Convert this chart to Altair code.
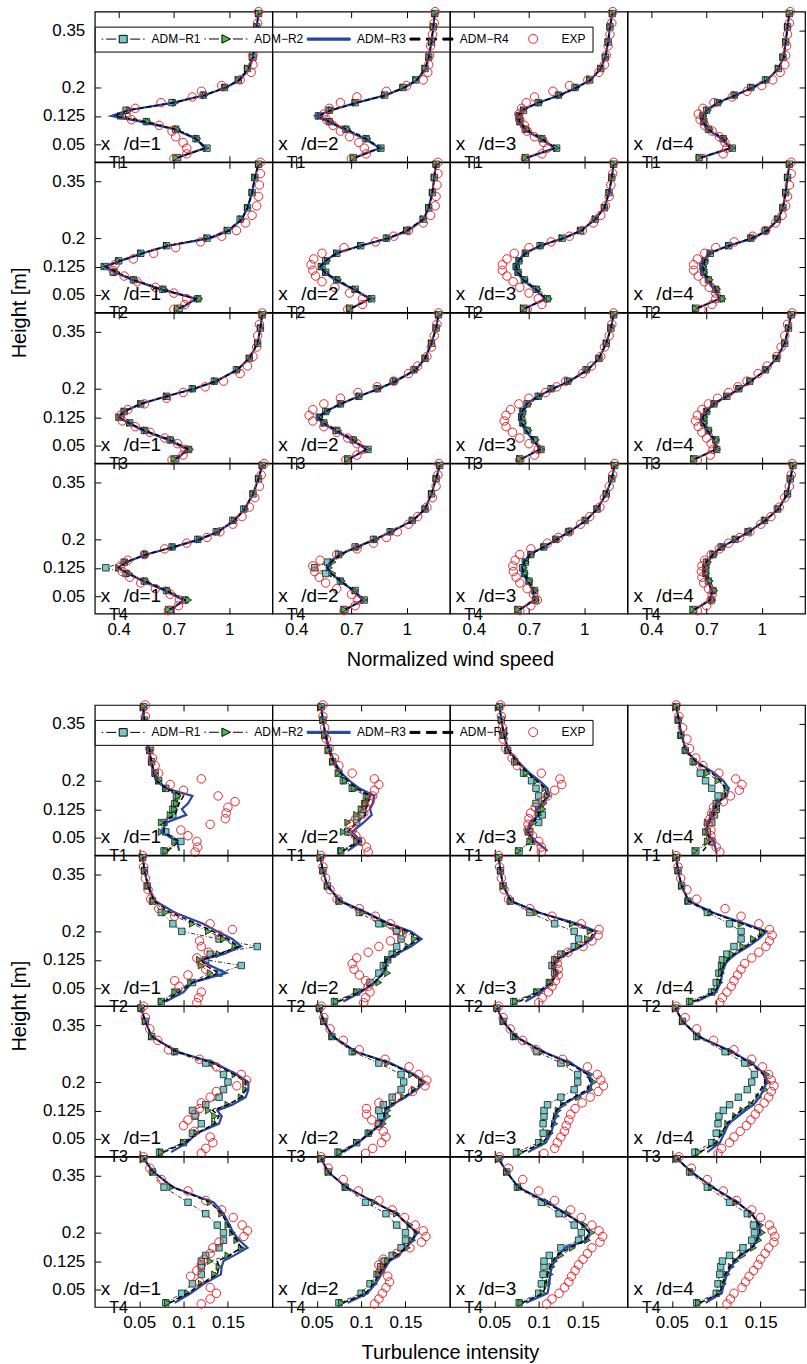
import altair as alt
import pandas as pd

# ---------------- heights (m) ----------------
HM = [0.015, 0.04, 0.065, 0.09, 0.11, 0.125, 0.14, 0.16, 0.18, 0.2, 0.22, 0.25, 0.28, 0.32, 0.36, 0.395]
HE = [0.012, 0.025, 0.04, 0.055, 0.07, 0.085, 0.1, 0.115, 0.13, 0.145, 0.16, 0.175, 0.19, 0.205,
      0.22, 0.24, 0.26, 0.285, 0.31, 0.34, 0.37, 0.4]

SERIES = ["R1", "R2", "R3", "R4", "EXP"]
LABELS = ["ADM\u2212R1", "ADM\u2212R2", "ADM\u2212R3", "ADM\u2212R4", "EXP"]

# ---------------- normalized wind speed (rows: x/d = 1..4) ----------------
U_T1_R1 = [
    [0.72, 0.88, 0.82, 0.71, 0.55, 0.42, 0.44, 0.69, 0.86, 0.975, 1.05, 1.10, 1.13, 1.14, 1.15, 1.16],
    [0.71, 0.86, 0.78, 0.67, 0.58, 0.52, 0.58, 0.72, 0.88, 0.98, 1.05, 1.10, 1.12, 1.135, 1.145, 1.153],
    [0.68, 0.85, 0.77, 0.68, 0.65, 0.645, 0.67, 0.75, 0.86, 0.95, 1.03, 1.09, 1.115, 1.13, 1.14, 1.153],
    [0.66, 0.84, 0.79, 0.71, 0.685, 0.68, 0.70, 0.76, 0.85, 0.94, 1.02, 1.09, 1.115, 1.13, 1.14, 1.15],
]
U_T1_R2 = [
    [0.71, 0.875, 0.83, 0.72, 0.56, 0.41, 0.46, 0.71, 0.87, 0.98, 1.05, 1.10, 1.125, 1.14, 1.15, 1.16],
    [0.71, 0.86, 0.79, 0.68, 0.59, 0.53, 0.59, 0.72, 0.88, 0.98, 1.05, 1.10, 1.12, 1.135, 1.145, 1.153],
    [0.68, 0.85, 0.78, 0.69, 0.655, 0.65, 0.67, 0.76, 0.87, 0.96, 1.03, 1.09, 1.115, 1.13, 1.14, 1.153],
    [0.66, 0.84, 0.80, 0.72, 0.69, 0.685, 0.71, 0.77, 0.86, 0.95, 1.03, 1.09, 1.115, 1.13, 1.14, 1.15],
]
U_T1_R3 = [
    [0.72, 0.87, 0.82, 0.70, 0.52, 0.36, 0.45, 0.70, 0.87, 0.985, 1.06, 1.11, 1.13, 1.14, 1.15, 1.16],
    [0.72, 0.855, 0.77, 0.66, 0.57, 0.505, 0.59, 0.73, 0.89, 0.99, 1.06, 1.105, 1.12, 1.135, 1.145, 1.153],
    [0.69, 0.84, 0.76, 0.67, 0.645, 0.638, 0.66, 0.75, 0.87, 0.96, 1.035, 1.09, 1.115, 1.13, 1.14, 1.153],
    [0.67, 0.83, 0.78, 0.70, 0.68, 0.675, 0.70, 0.76, 0.86, 0.95, 1.03, 1.09, 1.12, 1.13, 1.14, 1.15],
]
U_T1_R4 = [
    [0.72, 0.87, 0.82, 0.71, 0.53, 0.38, 0.45, 0.70, 0.87, 0.98, 1.055, 1.105, 1.13, 1.14, 1.15, 1.16],
    [0.72, 0.85, 0.78, 0.67, 0.58, 0.52, 0.59, 0.73, 0.89, 0.99, 1.055, 1.10, 1.12, 1.135, 1.145, 1.153],
    [0.69, 0.84, 0.77, 0.68, 0.65, 0.64, 0.665, 0.75, 0.87, 0.96, 1.035, 1.09, 1.115, 1.13, 1.14, 1.153],
    [0.67, 0.83, 0.79, 0.71, 0.68, 0.68, 0.70, 0.76, 0.86, 0.95, 1.03, 1.09, 1.12, 1.13, 1.14, 1.15],
]
U_T1_EXP = [
    [0.70, 0.77, 0.77, 0.75, 0.71, 0.69, 0.62, 0.47, 0.44, 0.49, 0.63, 0.80, 0.85, 0.96, 1.06, 1.12, 1.13, 1.13, 1.135, 1.145, 1.155, 1.16],
    [0.70, 0.78, 0.77, 0.74, 0.69, 0.64, 0.60, 0.565, 0.55, 0.58, 0.64, 0.73, 0.89, 1.0, 1.09, 1.115, 1.12, 1.125, 1.13, 1.14, 1.15, 1.155],
    [0.68, 0.77, 0.80, 0.78, 0.73, 0.69, 0.675, 0.65, 0.645, 0.66, 0.685, 0.73, 0.83, 0.92, 1.02, 1.08, 1.11, 1.12, 1.13, 1.14, 1.15, 1.155],
    [0.68, 0.79, 0.81, 0.80, 0.77, 0.73, 0.69, 0.665, 0.655, 0.68, 0.74, 0.84, 0.92, 1.0, 1.06, 1.10, 1.125, 1.13, 1.135, 1.14, 1.15, 1.155],
]

U_T2_R1 = [
    [0.73, 0.83, 0.64, 0.48, 0.37, 0.33, 0.40, 0.52, 0.66, 0.88, 0.99, 1.06, 1.10, 1.125, 1.14, 1.16],
    [0.69, 0.81, 0.72, 0.62, 0.56, 0.54, 0.56, 0.62, 0.75, 0.89, 1.0, 1.09, 1.12, 1.14, 1.15, 1.16],
    [0.67, 0.80, 0.74, 0.675, 0.64, 0.63, 0.645, 0.68, 0.76, 0.88, 0.98, 1.06, 1.11, 1.135, 1.15, 1.16],
    [0.64, 0.78, 0.75, 0.71, 0.685, 0.68, 0.69, 0.72, 0.82, 0.94, 1.02, 1.085, 1.115, 1.13, 1.14, 1.15],
]
U_T2_R2 = [
    [0.72, 0.84, 0.65, 0.49, 0.39, 0.32, 0.40, 0.52, 0.66, 0.88, 0.99, 1.07, 1.10, 1.125, 1.14, 1.16],
    [0.69, 0.81, 0.72, 0.63, 0.56, 0.535, 0.57, 0.62, 0.75, 0.90, 1.0, 1.09, 1.12, 1.14, 1.15, 1.16],
    [0.67, 0.81, 0.75, 0.68, 0.645, 0.635, 0.65, 0.685, 0.77, 0.88, 0.98, 1.06, 1.11, 1.135, 1.15, 1.16],
    [0.64, 0.79, 0.76, 0.72, 0.69, 0.685, 0.695, 0.72, 0.82, 0.95, 1.03, 1.09, 1.115, 1.13, 1.14, 1.15],
]
U_T2_R3 = [
    [0.74, 0.82, 0.625, 0.47, 0.38, 0.322, 0.41, 0.53, 0.67, 0.90, 1.00, 1.07, 1.10, 1.125, 1.14, 1.16],
    [0.70, 0.80, 0.71, 0.61, 0.55, 0.529, 0.56, 0.615, 0.75, 0.905, 1.01, 1.095, 1.12, 1.14, 1.15, 1.16],
    [0.68, 0.79, 0.73, 0.665, 0.635, 0.627, 0.64, 0.675, 0.76, 0.89, 0.985, 1.06, 1.11, 1.135, 1.15, 1.16],
    [0.65, 0.77, 0.74, 0.70, 0.68, 0.675, 0.685, 0.71, 0.82, 0.955, 1.03, 1.09, 1.115, 1.13, 1.14, 1.15],
]
U_T2_R4 = [
    [0.73, 0.82, 0.63, 0.48, 0.39, 0.33, 0.41, 0.53, 0.67, 0.89, 1.00, 1.07, 1.10, 1.125, 1.14, 1.16],
    [0.70, 0.80, 0.71, 0.62, 0.555, 0.53, 0.56, 0.62, 0.75, 0.90, 1.0, 1.09, 1.12, 1.14, 1.15, 1.16],
    [0.68, 0.79, 0.74, 0.67, 0.64, 0.63, 0.645, 0.68, 0.76, 0.89, 0.985, 1.06, 1.11, 1.135, 1.15, 1.16],
    [0.65, 0.77, 0.75, 0.71, 0.685, 0.68, 0.69, 0.715, 0.82, 0.95, 1.03, 1.09, 1.115, 1.13, 1.14, 1.15],
]
U_T2_EXP = [
    [0.70, 0.76, 0.77, 0.70, 0.60, 0.50, 0.43, 0.37, 0.38, 0.48, 0.59, 0.71, 0.845, 0.96, 1.04, 1.09, 1.125, 1.15, 1.16, 1.165, 1.17, 1.17],
    [0.68, 0.76, 0.76, 0.69, 0.61, 0.54, 0.505, 0.49, 0.48, 0.495, 0.54, 0.66, 0.83, 0.93, 1.01, 1.09, 1.13, 1.155, 1.16, 1.165, 1.17, 1.17],
    [0.69, 0.77, 0.75, 0.70, 0.65, 0.614, 0.58, 0.555, 0.555, 0.58, 0.62, 0.70, 0.82, 0.92, 0.99, 1.05, 1.09, 1.115, 1.136, 1.145, 1.155, 1.16],
    [0.67, 0.73, 0.75, 0.75, 0.715, 0.687, 0.655, 0.63, 0.63, 0.65, 0.69, 0.75, 0.85, 0.95, 1.02, 1.075, 1.11, 1.13, 1.14, 1.15, 1.16, 1.16],
]

U_T3_R1 = [
    [0.71, 0.78, 0.68, 0.54, 0.46, 0.41, 0.43, 0.52, 0.66, 0.80, 0.92, 1.04, 1.11, 1.155, 1.17, 1.18],
    [0.68, 0.79, 0.71, 0.62, 0.55, 0.525, 0.56, 0.64, 0.74, 0.84, 0.93, 1.04, 1.10, 1.135, 1.16, 1.173],
    [0.65, 0.765, 0.73, 0.69, 0.665, 0.66, 0.665, 0.69, 0.75, 0.82, 0.91, 1.01, 1.08, 1.12, 1.145, 1.16],
    [0.63, 0.755, 0.75, 0.71, 0.685, 0.685, 0.70, 0.74, 0.81, 0.875, 0.935, 1.02, 1.08, 1.125, 1.145, 1.16],
]
U_T3_R2 = [
    [0.70, 0.79, 0.69, 0.55, 0.46, 0.40, 0.43, 0.52, 0.66, 0.81, 0.93, 1.05, 1.11, 1.155, 1.17, 1.18],
    [0.68, 0.79, 0.72, 0.63, 0.555, 0.53, 0.57, 0.645, 0.745, 0.85, 0.94, 1.05, 1.10, 1.135, 1.16, 1.173],
    [0.65, 0.77, 0.74, 0.70, 0.67, 0.66, 0.67, 0.70, 0.76, 0.83, 0.92, 1.02, 1.08, 1.12, 1.145, 1.16],
    [0.63, 0.76, 0.755, 0.715, 0.69, 0.69, 0.705, 0.745, 0.81, 0.88, 0.94, 1.025, 1.08, 1.125, 1.145, 1.16],
]
U_T3_R3 = [
    [0.72, 0.77, 0.67, 0.53, 0.45, 0.40, 0.43, 0.52, 0.66, 0.81, 0.93, 1.045, 1.11, 1.155, 1.17, 1.18],
    [0.69, 0.78, 0.70, 0.61, 0.54, 0.515, 0.56, 0.64, 0.74, 0.85, 0.94, 1.05, 1.10, 1.135, 1.16, 1.173],
    [0.66, 0.76, 0.72, 0.68, 0.655, 0.65, 0.66, 0.685, 0.75, 0.83, 0.92, 1.02, 1.08, 1.12, 1.145, 1.16],
    [0.64, 0.75, 0.74, 0.70, 0.675, 0.68, 0.695, 0.735, 0.81, 0.88, 0.94, 1.025, 1.08, 1.125, 1.145, 1.16],
]
U_T3_R4 = [
    [0.71, 0.78, 0.68, 0.54, 0.455, 0.40, 0.43, 0.52, 0.66, 0.81, 0.93, 1.045, 1.11, 1.155, 1.17, 1.18],
    [0.69, 0.78, 0.71, 0.62, 0.55, 0.52, 0.56, 0.64, 0.74, 0.85, 0.94, 1.05, 1.10, 1.135, 1.16, 1.173],
    [0.66, 0.76, 0.725, 0.685, 0.66, 0.655, 0.665, 0.69, 0.75, 0.83, 0.92, 1.02, 1.08, 1.12, 1.145, 1.16],
    [0.64, 0.75, 0.745, 0.705, 0.68, 0.68, 0.70, 0.74, 0.81, 0.88, 0.94, 1.025, 1.08, 1.125, 1.145, 1.16],
]
U_T3_EXP = [
    [0.69, 0.75, 0.76, 0.72, 0.65, 0.57, 0.49, 0.42, 0.41, 0.45, 0.54, 0.66, 0.75, 0.87, 0.97, 1.06, 1.10, 1.13, 1.15, 1.155, 1.165, 1.18],
    [0.67, 0.73, 0.76, 0.73, 0.68, 0.62, 0.55, 0.49, 0.47, 0.49, 0.55, 0.64, 0.735, 0.84, 0.93, 1.01, 1.06, 1.11, 1.135, 1.15, 1.165, 1.173],
    [0.65, 0.73, 0.75, 0.70, 0.65, 0.61, 0.575, 0.565, 0.575, 0.60, 0.645, 0.70, 0.79, 0.85, 0.90, 0.99, 1.04, 1.09, 1.11, 1.136, 1.15, 1.16],
    [0.65, 0.72, 0.735, 0.725, 0.70, 0.675, 0.655, 0.64, 0.65, 0.675, 0.71, 0.76, 0.82, 0.87, 0.92, 0.98, 1.03, 1.08, 1.105, 1.125, 1.14, 1.165],
]

U_T4_R1 = [
    [0.68, 0.76, 0.66, 0.54, 0.44, 0.33, 0.43, 0.54, 0.69, 0.83, 0.93, 1.02, 1.08, 1.13, 1.16, 1.18],
    [0.66, 0.77, 0.72, 0.64, 0.56, 0.50, 0.57, 0.63, 0.72, 0.82, 0.91, 1.03, 1.10, 1.135, 1.16, 1.18],
    [0.64, 0.735, 0.73, 0.70, 0.675, 0.665, 0.68, 0.71, 0.78, 0.845, 0.915, 1.005, 1.07, 1.12, 1.15, 1.165],
    [0.63, 0.725, 0.735, 0.71, 0.695, 0.695, 0.70, 0.735, 0.78, 0.855, 0.925, 1.015, 1.085, 1.14, 1.155, 1.17],
]
U_T4_R2 = [
    [0.67, 0.78, 0.67, 0.55, 0.46, 0.40, 0.44, 0.55, 0.70, 0.84, 0.94, 1.03, 1.09, 1.13, 1.16, 1.18],
    [0.66, 0.77, 0.72, 0.65, 0.60, 0.58, 0.60, 0.645, 0.74, 0.835, 0.92, 1.035, 1.10, 1.135, 1.16, 1.18],
    [0.64, 0.74, 0.735, 0.705, 0.68, 0.675, 0.685, 0.715, 0.785, 0.85, 0.92, 1.01, 1.07, 1.12, 1.15, 1.165],
    [0.625, 0.73, 0.745, 0.72, 0.70, 0.70, 0.71, 0.745, 0.79, 0.86, 0.93, 1.02, 1.09, 1.14, 1.155, 1.17],
]
U_T4_R3 = [
    [0.69, 0.75, 0.65, 0.53, 0.45, 0.395, 0.44, 0.55, 0.70, 0.84, 0.94, 1.03, 1.085, 1.13, 1.16, 1.18],
    [0.67, 0.76, 0.71, 0.64, 0.59, 0.565, 0.585, 0.635, 0.73, 0.83, 0.915, 1.035, 1.10, 1.135, 1.16, 1.18],
    [0.65, 0.73, 0.72, 0.69, 0.665, 0.66, 0.675, 0.70, 0.78, 0.85, 0.92, 1.01, 1.07, 1.12, 1.15, 1.165],
    [0.635, 0.72, 0.73, 0.705, 0.687, 0.69, 0.70, 0.735, 0.78, 0.86, 0.93, 1.02, 1.09, 1.14, 1.155, 1.17],
]
U_T4_R4 = [
    [0.68, 0.76, 0.66, 0.54, 0.45, 0.40, 0.44, 0.55, 0.70, 0.84, 0.94, 1.03, 1.085, 1.13, 1.16, 1.18],
    [0.67, 0.76, 0.71, 0.64, 0.59, 0.57, 0.59, 0.64, 0.73, 0.83, 0.915, 1.035, 1.10, 1.135, 1.16, 1.18],
    [0.65, 0.73, 0.725, 0.695, 0.67, 0.665, 0.675, 0.705, 0.78, 0.85, 0.92, 1.01, 1.07, 1.12, 1.15, 1.165],
    [0.635, 0.72, 0.73, 0.705, 0.69, 0.69, 0.70, 0.735, 0.78, 0.86, 0.93, 1.02, 1.09, 1.14, 1.155, 1.17],
]
U_T4_EXP = [
    [0.67, 0.725, 0.73, 0.68, 0.60, 0.52, 0.46, 0.42, 0.41, 0.45, 0.54, 0.65, 0.77, 0.88, 0.95, 1.02, 1.07, 1.11, 1.14, 1.165, 1.175, 1.19],
    [0.66, 0.72, 0.735, 0.70, 0.62, 0.56, 0.525, 0.50, 0.49, 0.53, 0.62, 0.73, 0.82, 0.89, 0.95, 1.01, 1.06, 1.11, 1.14, 1.16, 1.17, 1.175],
    [0.65, 0.71, 0.745, 0.725, 0.69, 0.65, 0.63, 0.615, 0.612, 0.625, 0.65, 0.71, 0.80, 0.86, 0.92, 0.98, 1.03, 1.085, 1.11, 1.136, 1.155, 1.165],
    [0.65, 0.70, 0.725, 0.73, 0.71, 0.685, 0.675, 0.672, 0.675, 0.69, 0.725, 0.77, 0.82, 0.88, 0.935, 0.995, 1.05, 1.095, 1.125, 1.15, 1.16, 1.165],
]

# ---------------- turbulence intensity ----------------
TI_T1_R1 = [
    [0.078, 0.097, 0.08, 0.078, 0.088, 0.088, 0.09, 0.092, 0.08, 0.072, 0.068, 0.064, 0.062, 0.058, 0.056, 0.055],
    [0.077, 0.097, 0.085, 0.095, 0.10, 0.102, 0.104, 0.106, 0.09, 0.08, 0.075, 0.068, 0.063, 0.059, 0.057, 0.055],
    [0.078, 0.092, 0.09, 0.10, 0.104, 0.10, 0.097, 0.10, 0.097, 0.092, 0.083, 0.073, 0.065, 0.06, 0.058, 0.056],
    [0.077, 0.095, 0.09, 0.095, 0.098, 0.10, 0.10, 0.102, 0.095, 0.088, 0.082, 0.074, 0.065, 0.06, 0.057, 0.055],
]
TI_T1_R2 = [
    [0.08, 0.09, 0.075, 0.075, 0.085, 0.09, 0.092, 0.094, 0.08, 0.072, 0.068, 0.064, 0.062, 0.058, 0.056, 0.055],
    [0.078, 0.095, 0.08, 0.085, 0.095, 0.10, 0.105, 0.108, 0.092, 0.082, 0.074, 0.068, 0.063, 0.059, 0.057, 0.055],
    [0.077, 0.09, 0.088, 0.095, 0.10, 0.105, 0.106, 0.11, 0.107, 0.098, 0.086, 0.075, 0.066, 0.061, 0.058, 0.056],
    [0.076, 0.09, 0.088, 0.09, 0.096, 0.10, 0.103, 0.11, 0.112, 0.102, 0.09, 0.076, 0.066, 0.061, 0.058, 0.055],
]
TI_T1_R3 = [
    [0.095, 0.093, 0.075, 0.081, 0.103, 0.098, 0.105, 0.11, 0.08, 0.069, 0.066, 0.063, 0.061, 0.057, 0.055, 0.054],
    [0.085, 0.10, 0.09, 0.103, 0.112, 0.11, 0.113, 0.115, 0.098, 0.087, 0.078, 0.07, 0.065, 0.06, 0.057, 0.055],
    [0.11, 0.097, 0.087, 0.09, 0.10, 0.098, 0.104, 0.112, 0.11, 0.101, 0.09, 0.077, 0.066, 0.061, 0.058, 0.056],
    [0.10, 0.097, 0.089, 0.09, 0.095, 0.097, 0.10, 0.112, 0.114, 0.108, 0.098, 0.078, 0.066, 0.061, 0.058, 0.055],
]
TI_T1_R4 = [
    [0.082, 0.095, 0.078, 0.078, 0.09, 0.093, 0.095, 0.10, 0.08, 0.07, 0.067, 0.064, 0.062, 0.058, 0.056, 0.055],
    [0.08, 0.098, 0.085, 0.095, 0.105, 0.105, 0.108, 0.11, 0.095, 0.085, 0.077, 0.069, 0.064, 0.06, 0.057, 0.055],
    [0.09, 0.094, 0.088, 0.093, 0.10, 0.10, 0.103, 0.11, 0.107, 0.098, 0.088, 0.076, 0.066, 0.061, 0.058, 0.056],
    [0.085, 0.094, 0.089, 0.092, 0.097, 0.099, 0.10, 0.11, 0.11, 0.105, 0.095, 0.077, 0.066, 0.061, 0.058, 0.055],
]
TI_T1_EXP = [
    [0.113, 0.116, 0.115, 0.105, 0.097, 0.13, 0.147, 0.148, 0.15, 0.158, 0.139, 0.10, 0.085, 0.12, 0.072, 0.068, 0.065, 0.062, 0.06, 0.058, 0.057, 0.057],
    [0.108, 0.106, 0.10, 0.094, 0.09, 0.088, 0.094, 0.103, 0.105, 0.11, 0.113, 0.115, 0.12, 0.115, 0.09, 0.075, 0.07, 0.064, 0.061, 0.059, 0.057, 0.057],
    [0.103, 0.103, 0.10, 0.093, 0.088, 0.088, 0.089, 0.091, 0.096, 0.104, 0.11, 0.118, 0.126, 0.124, 0.103, 0.076, 0.07, 0.063, 0.06, 0.059, 0.058, 0.057],
    [0.104, 0.10, 0.095, 0.094, 0.094, 0.091, 0.093, 0.095, 0.097, 0.108, 0.116, 0.126, 0.129, 0.122, 0.103, 0.085, 0.077, 0.07, 0.067, 0.062, 0.058, 0.055],
]

TI_T2_R1 = [
    [0.075, 0.092, 0.11, 0.14, 0.165, 0.125, 0.13, 0.183, 0.14, 0.098, 0.088, 0.075, 0.065, 0.059, 0.056, 0.054],
    [0.07, 0.095, 0.11, 0.12, 0.125, 0.13, 0.135, 0.14, 0.145, 0.14, 0.12, 0.098, 0.075, 0.062, 0.057, 0.054],
    [0.072, 0.098, 0.112, 0.118, 0.115, 0.118, 0.125, 0.14, 0.145, 0.14, 0.118, 0.09, 0.068, 0.06, 0.057, 0.055],
    [0.07, 0.095, 0.10, 0.103, 0.106, 0.107, 0.112, 0.12, 0.128, 0.128, 0.115, 0.09, 0.068, 0.061, 0.057, 0.055],
]
TI_T2_R2 = [
    [0.075, 0.09, 0.108, 0.13, 0.12, 0.118, 0.14, 0.158, 0.145, 0.128, 0.11, 0.08, 0.066, 0.06, 0.056, 0.054],
    [0.072, 0.095, 0.12, 0.13, 0.128, 0.13, 0.14, 0.153, 0.16, 0.15, 0.128, 0.102, 0.076, 0.062, 0.057, 0.054],
    [0.074, 0.098, 0.113, 0.12, 0.118, 0.12, 0.13, 0.145, 0.155, 0.158, 0.138, 0.098, 0.069, 0.06, 0.057, 0.055],
    [0.072, 0.098, 0.104, 0.106, 0.108, 0.112, 0.118, 0.13, 0.142, 0.152, 0.128, 0.094, 0.069, 0.061, 0.057, 0.055],
]
TI_T2_R3 = [
    [0.08, 0.10, 0.11, 0.148, 0.13, 0.12, 0.145, 0.165, 0.155, 0.138, 0.122, 0.09, 0.068, 0.06, 0.056, 0.054],
    [0.08, 0.10, 0.115, 0.125, 0.128, 0.128, 0.14, 0.156, 0.168, 0.156, 0.132, 0.106, 0.077, 0.062, 0.057, 0.054],
    [0.085, 0.103, 0.115, 0.12, 0.117, 0.12, 0.13, 0.148, 0.16, 0.165, 0.144, 0.10, 0.069, 0.06, 0.057, 0.055],
    [0.078, 0.10, 0.105, 0.107, 0.109, 0.114, 0.122, 0.136, 0.148, 0.157, 0.133, 0.096, 0.069, 0.061, 0.057, 0.055],
]
TI_T2_R4 = [
    [0.078, 0.095, 0.11, 0.14, 0.125, 0.12, 0.14, 0.162, 0.15, 0.133, 0.115, 0.085, 0.067, 0.06, 0.056, 0.054],
    [0.075, 0.098, 0.115, 0.125, 0.128, 0.128, 0.138, 0.152, 0.165, 0.153, 0.13, 0.105, 0.076, 0.062, 0.057, 0.054],
    [0.078, 0.10, 0.114, 0.12, 0.116, 0.12, 0.13, 0.146, 0.158, 0.162, 0.14, 0.10, 0.069, 0.06, 0.057, 0.055],
    [0.075, 0.098, 0.104, 0.106, 0.108, 0.113, 0.12, 0.133, 0.145, 0.155, 0.13, 0.095, 0.069, 0.061, 0.057, 0.055],
]
TI_T2_EXP = [
    [0.115, 0.117, 0.12, 0.095, 0.09, 0.105, 0.125, 0.12, 0.115, 0.128, 0.12, 0.118, 0.14, 0.155, 0.13, 0.09, 0.072, 0.063, 0.06, 0.057, 0.055, 0.054],
    [0.103, 0.105, 0.11, 0.108, 0.105, 0.098, 0.092, 0.09, 0.095, 0.108, 0.12, 0.133, 0.146, 0.14, 0.133, 0.116, 0.098, 0.073, 0.065, 0.06, 0.057, 0.055],
    [0.10, 0.104, 0.111, 0.115, 0.119, 0.122, 0.122, 0.121, 0.121, 0.133, 0.15, 0.16, 0.167, 0.168, 0.148, 0.115, 0.09, 0.066, 0.061, 0.058, 0.056, 0.055],
    [0.104, 0.107, 0.112, 0.117, 0.12, 0.124, 0.128, 0.132, 0.14, 0.148, 0.156, 0.16, 0.163, 0.16, 0.148, 0.128, 0.11, 0.078, 0.067, 0.06, 0.057, 0.055],
]

TI_T3_R1 = [
    [0.073, 0.10, 0.11, 0.12, 0.113, 0.11, 0.125, 0.14, 0.145, 0.15, 0.145, 0.125, 0.09, 0.064, 0.057, 0.052],
    [0.074, 0.095, 0.108, 0.12, 0.122, 0.12, 0.125, 0.135, 0.145, 0.148, 0.145, 0.12, 0.09, 0.067, 0.058, 0.053],
    [0.075, 0.10, 0.105, 0.105, 0.106, 0.106, 0.11, 0.125, 0.14, 0.144, 0.144, 0.125, 0.098, 0.072, 0.06, 0.053],
    [0.076, 0.095, 0.10, 0.102, 0.103, 0.108, 0.115, 0.125, 0.135, 0.14, 0.143, 0.132, 0.11, 0.078, 0.062, 0.054],
]
TI_T3_R2 = [
    [0.075, 0.10, 0.115, 0.135, 0.135, 0.128, 0.15, 0.165, 0.17, 0.17, 0.158, 0.133, 0.092, 0.064, 0.057, 0.052],
    [0.076, 0.095, 0.11, 0.125, 0.13, 0.13, 0.135, 0.148, 0.16, 0.168, 0.157, 0.13, 0.093, 0.068, 0.058, 0.053],
    [0.08, 0.105, 0.113, 0.118, 0.12, 0.122, 0.128, 0.145, 0.158, 0.162, 0.158, 0.135, 0.104, 0.074, 0.06, 0.053],
    [0.08, 0.10, 0.107, 0.113, 0.122, 0.13, 0.14, 0.148, 0.155, 0.158, 0.157, 0.14, 0.117, 0.08, 0.062, 0.054],
]
TI_T3_R3 = [
    [0.086, 0.104, 0.115, 0.14, 0.143, 0.138, 0.155, 0.17, 0.173, 0.173, 0.16, 0.135, 0.093, 0.064, 0.057, 0.052],
    [0.08, 0.097, 0.11, 0.123, 0.127, 0.127, 0.135, 0.15, 0.163, 0.172, 0.16, 0.133, 0.094, 0.068, 0.058, 0.053],
    [0.088, 0.108, 0.114, 0.117, 0.119, 0.122, 0.126, 0.142, 0.158, 0.16, 0.157, 0.136, 0.105, 0.074, 0.06, 0.053],
    [0.09, 0.104, 0.109, 0.114, 0.125, 0.133, 0.142, 0.149, 0.153, 0.157, 0.155, 0.14, 0.118, 0.08, 0.062, 0.054],
]
TI_T3_R4 = [
    [0.078, 0.102, 0.115, 0.135, 0.14, 0.133, 0.15, 0.165, 0.17, 0.17, 0.157, 0.133, 0.092, 0.064, 0.057, 0.052],
    [0.078, 0.096, 0.11, 0.122, 0.126, 0.126, 0.133, 0.148, 0.16, 0.17, 0.158, 0.132, 0.094, 0.068, 0.058, 0.053],
    [0.082, 0.105, 0.112, 0.115, 0.117, 0.12, 0.125, 0.14, 0.155, 0.158, 0.155, 0.134, 0.104, 0.074, 0.06, 0.053],
    [0.082, 0.10, 0.106, 0.112, 0.12, 0.128, 0.138, 0.145, 0.15, 0.155, 0.153, 0.138, 0.116, 0.08, 0.062, 0.054],
]
TI_T3_EXP = [
    [0.12, 0.125, 0.133, 0.13, 0.112, 0.10, 0.105, 0.113, 0.118, 0.12, 0.13, 0.137, 0.16, 0.171, 0.165, 0.137, 0.118, 0.083, 0.071, 0.062, 0.057, 0.055],
    [0.105, 0.113, 0.123, 0.128, 0.125, 0.12, 0.112, 0.106, 0.106, 0.12, 0.14, 0.158, 0.172, 0.174, 0.165, 0.154, 0.127, 0.098, 0.08, 0.065, 0.058, 0.055],
    [0.106, 0.118, 0.121, 0.125, 0.129, 0.131, 0.134, 0.136, 0.141, 0.149, 0.158, 0.167, 0.173, 0.17, 0.166, 0.155, 0.127, 0.097, 0.082, 0.068, 0.06, 0.055],
    [0.102, 0.106, 0.115, 0.12, 0.127, 0.134, 0.139, 0.144, 0.148, 0.154, 0.159, 0.162, 0.165, 0.162, 0.159, 0.152, 0.14, 0.12, 0.097, 0.078, 0.065, 0.055],
]

TI_T4_R1 = [
    [0.08, 0.098, 0.11, 0.12, 0.12, 0.12, 0.125, 0.14, 0.145, 0.145, 0.138, 0.125, 0.105, 0.078, 0.065, 0.055],
    [0.075, 0.10, 0.11, 0.118, 0.122, 0.126, 0.135, 0.145, 0.15, 0.15, 0.14, 0.128, 0.105, 0.082, 0.063, 0.055],
    [0.078, 0.10, 0.103, 0.105, 0.106, 0.106, 0.112, 0.125, 0.145, 0.148, 0.14, 0.123, 0.103, 0.076, 0.064, 0.055],
    [0.078, 0.10, 0.102, 0.104, 0.105, 0.107, 0.115, 0.13, 0.14, 0.143, 0.142, 0.135, 0.115, 0.09, 0.07, 0.056],
]
TI_T4_R2 = [
    [0.082, 0.105, 0.12, 0.135, 0.14, 0.13, 0.15, 0.165, 0.16, 0.155, 0.15, 0.143, 0.13, 0.087, 0.066, 0.055],
    [0.078, 0.105, 0.115, 0.12, 0.125, 0.13, 0.14, 0.152, 0.158, 0.163, 0.155, 0.14, 0.115, 0.083, 0.063, 0.055],
    [0.08, 0.105, 0.11, 0.113, 0.115, 0.118, 0.125, 0.138, 0.155, 0.16, 0.152, 0.133, 0.11, 0.078, 0.064, 0.055],
    [0.08, 0.104, 0.108, 0.112, 0.117, 0.122, 0.13, 0.142, 0.148, 0.152, 0.15, 0.14, 0.123, 0.095, 0.072, 0.056],
]
TI_T4_R3 = [
    [0.09, 0.108, 0.123, 0.142, 0.143, 0.145, 0.157, 0.172, 0.163, 0.156, 0.152, 0.145, 0.134, 0.088, 0.066, 0.055],
    [0.085, 0.107, 0.116, 0.123, 0.128, 0.132, 0.142, 0.15, 0.158, 0.163, 0.153, 0.14, 0.115, 0.083, 0.063, 0.055],
    [0.086, 0.11, 0.112, 0.113, 0.115, 0.118, 0.122, 0.13, 0.154, 0.157, 0.15, 0.131, 0.11, 0.077, 0.064, 0.055],
    [0.088, 0.106, 0.109, 0.112, 0.117, 0.121, 0.127, 0.14, 0.146, 0.149, 0.149, 0.14, 0.124, 0.096, 0.072, 0.056],
]
TI_T4_R4 = [
    [0.085, 0.105, 0.12, 0.138, 0.14, 0.138, 0.152, 0.165, 0.16, 0.154, 0.15, 0.143, 0.13, 0.088, 0.066, 0.055],
    [0.08, 0.105, 0.114, 0.12, 0.126, 0.13, 0.14, 0.15, 0.157, 0.162, 0.153, 0.14, 0.115, 0.083, 0.063, 0.055],
    [0.082, 0.105, 0.108, 0.11, 0.113, 0.116, 0.12, 0.135, 0.152, 0.157, 0.15, 0.13, 0.108, 0.077, 0.064, 0.055],
    [0.082, 0.104, 0.107, 0.11, 0.115, 0.12, 0.127, 0.14, 0.146, 0.149, 0.148, 0.14, 0.123, 0.095, 0.072, 0.056],
]
TI_T4_EXP = [
    [0.12, 0.13, 0.137, 0.13, 0.118, 0.108, 0.115, 0.12, 0.123, 0.13, 0.133, 0.14, 0.168, 0.172, 0.166, 0.156, 0.143, 0.125, 0.105, 0.075, 0.062, 0.055],
    [0.115, 0.12, 0.124, 0.128, 0.132, 0.13, 0.122, 0.12, 0.125, 0.14, 0.155, 0.168, 0.173, 0.17, 0.161, 0.149, 0.135, 0.12, 0.097, 0.08, 0.063, 0.055],
    [0.109, 0.115, 0.123, 0.129, 0.134, 0.137, 0.141, 0.145, 0.15, 0.155, 0.16, 0.169, 0.172, 0.168, 0.16, 0.148, 0.136, 0.118, 0.10, 0.082, 0.066, 0.056],
    [0.112, 0.116, 0.12, 0.129, 0.133, 0.137, 0.142, 0.147, 0.15, 0.155, 0.159, 0.165, 0.166, 0.163, 0.16, 0.15, 0.14, 0.123, 0.108, 0.09, 0.072, 0.058],
]

U = {
    "R1": [U_T1_R1, U_T2_R1, U_T3_R1, U_T4_R1],
    "R2": [U_T1_R2, U_T2_R2, U_T3_R2, U_T4_R2],
    "R3": [U_T1_R3, U_T2_R3, U_T3_R3, U_T4_R3],
    "R4": [U_T1_R4, U_T2_R4, U_T3_R4, U_T4_R4],
    "EXP": [U_T1_EXP, U_T2_EXP, U_T3_EXP, U_T4_EXP],
}
TI = {
    "R1": [TI_T1_R1, TI_T2_R1, TI_T3_R1, TI_T4_R1],
    "R2": [TI_T1_R2, TI_T2_R2, TI_T3_R2, TI_T4_R2],
    "R3": [TI_T1_R3, TI_T2_R3, TI_T3_R3, TI_T4_R3],
    "R4": [TI_T1_R4, TI_T2_R4, TI_T3_R4, TI_T4_R4],
    "EXP": [TI_T1_EXP, TI_T2_EXP, TI_T3_EXP, TI_T4_EXP],
}

# ---------------- styling ----------------
FONT = "Liberation Sans"
TEAL = "#79c9c9"
GREEN = "#4fb947"
BLUE = "#2846a6"
RED = "#e8262b"
W, H = 178, 150.5
GAP = 91
YDOM = [0.004, 0.4]
YT = [0.05, 0.125, 0.2, 0.35]
BLOCKS = [
    dict(data=U, dom=[0.27, 1.235], ticks=[0.4, 0.7, 1.0], title="Normalized wind speed"),
    dict(data=TI, dom=[0.0, 0.2], ticks=[0.05, 0.1, 0.15], title="Turbulence intensity"),
]

# legend key glyphs (gnuplot-style samples)
P_R1 = "M-1,0H-0.7M-0.1,0H1.9M2.5,-0.75H4.1V0.75H2.5ZM4.7,0H6.7M7.3,0H7.6"
P_R2 = "M-1,0H-0.7M-0.1,0H1.9M2.5,-0.85L4.2,0L2.5,0.85ZM4.7,0H6.7M7.3,0H7.6"
P_R3 = "M-1,-0.22H7.6V0.22H-1Z"
P_R4 = "M-1,-0.2H1V0.2H-1ZM2.3,-0.2H4.3V0.2H2.3ZM5.6,-0.2H7.6V0.2H5.6Z"
P_EXP = "M2.4,0A0.9,0.9,0,1,1,4.2,0A0.9,0.9,0,1,1,2.4,0Z"
LEG_DF = pd.DataFrame({"lab": LABELS, "v": [-5.0] * 5, "h": [-5.0] * 5})

LABEL_EXPR = "'' + datum.value"


def panel_df(data, t, d):
    recs = []
    for key in ["R1", "R2", "R3", "R4"]:
        for h, v in zip(HM, data[key][t][d]):
            recs.append({"s": key, "h": h, "v": v})
    for h, v in zip(HE, data["EXP"][t][d]):
        recs.append({"s": "EXP", "h": h, "v": v})
    return pd.DataFrame(recs)


def make_panel(b, t, d):
    blk = BLOCKS[b]
    df = panel_df(blk["data"], t, d)
    xs = alt.Scale(domain=blk["dom"], nice=False, zero=False)
    ys = alt.Scale(domain=YDOM, nice=False, zero=False)
    common = dict(offset=-6, tickSize=6, tickWidth=1, tickColor="black", domain=False, grid=False,
                  labelFont=FONT, labelFontSize=17, labelColor="black", labelExpr=LABEL_EXPR,
                  labelOverlap=False,
                  titleFont=FONT, titleFontSize=20, titleFontWeight="normal", titleColor="black")
    xb = dict(orient="bottom", values=blk["ticks"], labels=(t == 3), labelPadding=8, title=None)
    if t == 3 and d == 1:
        xb.update(title=blk["title"], titleX=W, titleY=57.5, titleAlign="center",
                  titleBaseline="alphabetic")
    x_main = alt.X("v:Q", scale=xs, axis=alt.Axis(**common, **xb))
    x_top = alt.X("v:Q", scale=xs, axis=alt.Axis(**common, orient="top", values=blk["ticks"],
                                                 labels=False, title=None))
    x_none = alt.X("v:Q", scale=xs, axis=None)
    y_none = alt.Y("h:Q", scale=ys, axis=None)
    if d == 0:
        yl = dict(orient="left", values=YT, labels=True, labelPadding=10, title=None)
        if t == 1:
            yl.update(title="Height [m]", titleX=-75, titleY=H, titleAlign="center",
                      titleBaseline="alphabetic", titleAngle=270)
        y_main = alt.Y("h:Q", scale=ys, axis=alt.Axis(**common, **yl))
    else:
        y_main = y_none
    if d == 3:
        y_right = alt.Y("h:Q", scale=ys, axis=alt.Axis(**common, orient="right", values=YT,
                                                       labels=False, title=None))
    else:
        y_right = y_none

    base = alt.Chart(df)

    def sel(s):
        return base.transform_filter(alt.datum.s == s)

    l_r1 = sel("R1").mark_line(color="black", strokeWidth=0.8, strokeDash=[4, 2, 1, 2]).encode(
        x=x_main, y=y_main, order="h:Q")
    p_r1 = sel("R1").mark_point(shape="square", size=42, filled=True, fill=TEAL, stroke="black",
                                strokeWidth=0.7, opacity=1).encode(x=x_none, y=y_none)
    l_r2 = sel("R2").mark_line(color="black", strokeWidth=0.8, strokeDash=[4, 2, 1, 2]).encode(
        x=x_none, y=y_none, order="h:Q")
    p_r2 = sel("R2").mark_point(shape="triangle-right", size=48, filled=True, fill=GREEN,
                                stroke="black", strokeWidth=0.7, opacity=1).encode(x=x_none, y=y_none)
    l_r3 = sel("R3").mark_line(color=BLUE, strokeWidth=2.2).encode(x=x_none, y=y_none, order="h:Q")
    l_r4 = sel("R4").mark_line(color="black", strokeWidth=1.5, strokeDash=[5, 3]).encode(
        x=x_none, y=y_none, order="h:Q")
    p_exp = sel("EXP").mark_point(shape="circle", size=72, filled=False, color=RED, strokeWidth=1,
                                  opacity=1).encode(x=x_top, y=y_right)

    lab = alt.Chart(pd.DataFrame({"a": ["x"], "b": [f"T{t + 1}"], "c": [f"/d={d + 1}"]}))
    t_a = lab.mark_text(align="left", baseline="alphabetic", font=FONT, fontSize=19, color="black").encode(
        text="a:N", x=alt.value(6), y=alt.value(138.5))
    t_b = lab.mark_text(align="left", baseline="alphabetic", font=FONT, fontSize=16, color="black").encode(
        text="b:N", x=alt.value(14.5), y=alt.value(156.5))
    t_c = lab.mark_text(align="left", baseline="alphabetic", font=FONT, fontSize=19, color="black").encode(
        text="c:N", x=alt.value(29), y=alt.value(138.5))

    layers = [l_r1, p_r1, l_r2, p_r2, l_r3, l_r4, p_exp, t_a, t_b, t_c]
    if t == 0 and d == 0:
        leg = alt.Legend(title=None, orient="none", legendX=0, legendY=15, direction="horizontal",
                         columns=5, symbolSize=100, symbolStrokeWidth=1, symbolOpacity=1,
                         labelFont=FONT, labelFontSize=12, labelColor="black", labelOffset=39,
                         columnPadding=1, padding=6, fillColor="white", strokeColor="black")
        carrier = alt.Chart(LEG_DF).mark_point(clip=True, filled=True, opacity=1).encode(
            x=x_none, y=y_none,
            shape=alt.Shape("lab:N", scale=alt.Scale(domain=LABELS, range=[P_R1, P_R2, P_R3, P_R4, P_EXP]),
                            legend=leg),
            fill=alt.Fill("lab:N", scale=alt.Scale(domain=LABELS, range=[TEAL, GREEN, BLUE, "black", "transparent"]),
                          legend=leg),
            stroke=alt.Stroke("lab:N", scale=alt.Scale(domain=LABELS, range=["black", "black", BLUE, "black", RED]),
                              legend=leg),
        )
        layers.append(carrier)
    return alt.layer(*layers).resolve_axis(x="independent", y="independent").properties(width=W, height=H)


def spacer():
    return alt.Chart(pd.DataFrame({"v": [0.0]})).mark_point(opacity=0).encode(
        x=alt.X("v:Q", axis=None), y=alt.Y("v:Q", axis=None)
    ).properties(width=W, height=GAP, view=alt.ViewBackground(stroke="transparent"))


cells = []
for b in range(2):
    for t in range(4):
        for d in range(4):
            cells.append(make_panel(b, t, d))
    if b == 0:
        cells.extend(spacer() for _ in range(4))

chart = (
    alt.concat(*cells, columns=4, spacing=0, bounds="flush")
    .resolve_scale(shape="independent", fill="independent", stroke="independent")
    .properties(padding={"left": 9, "top": 3, "right": 0, "bottom": 1}, background="white")
    .configure_view(stroke="black", strokeWidth=1.2)
)

chart.save("out.html", embed_options={"renderer": "svg", "actions": False})
